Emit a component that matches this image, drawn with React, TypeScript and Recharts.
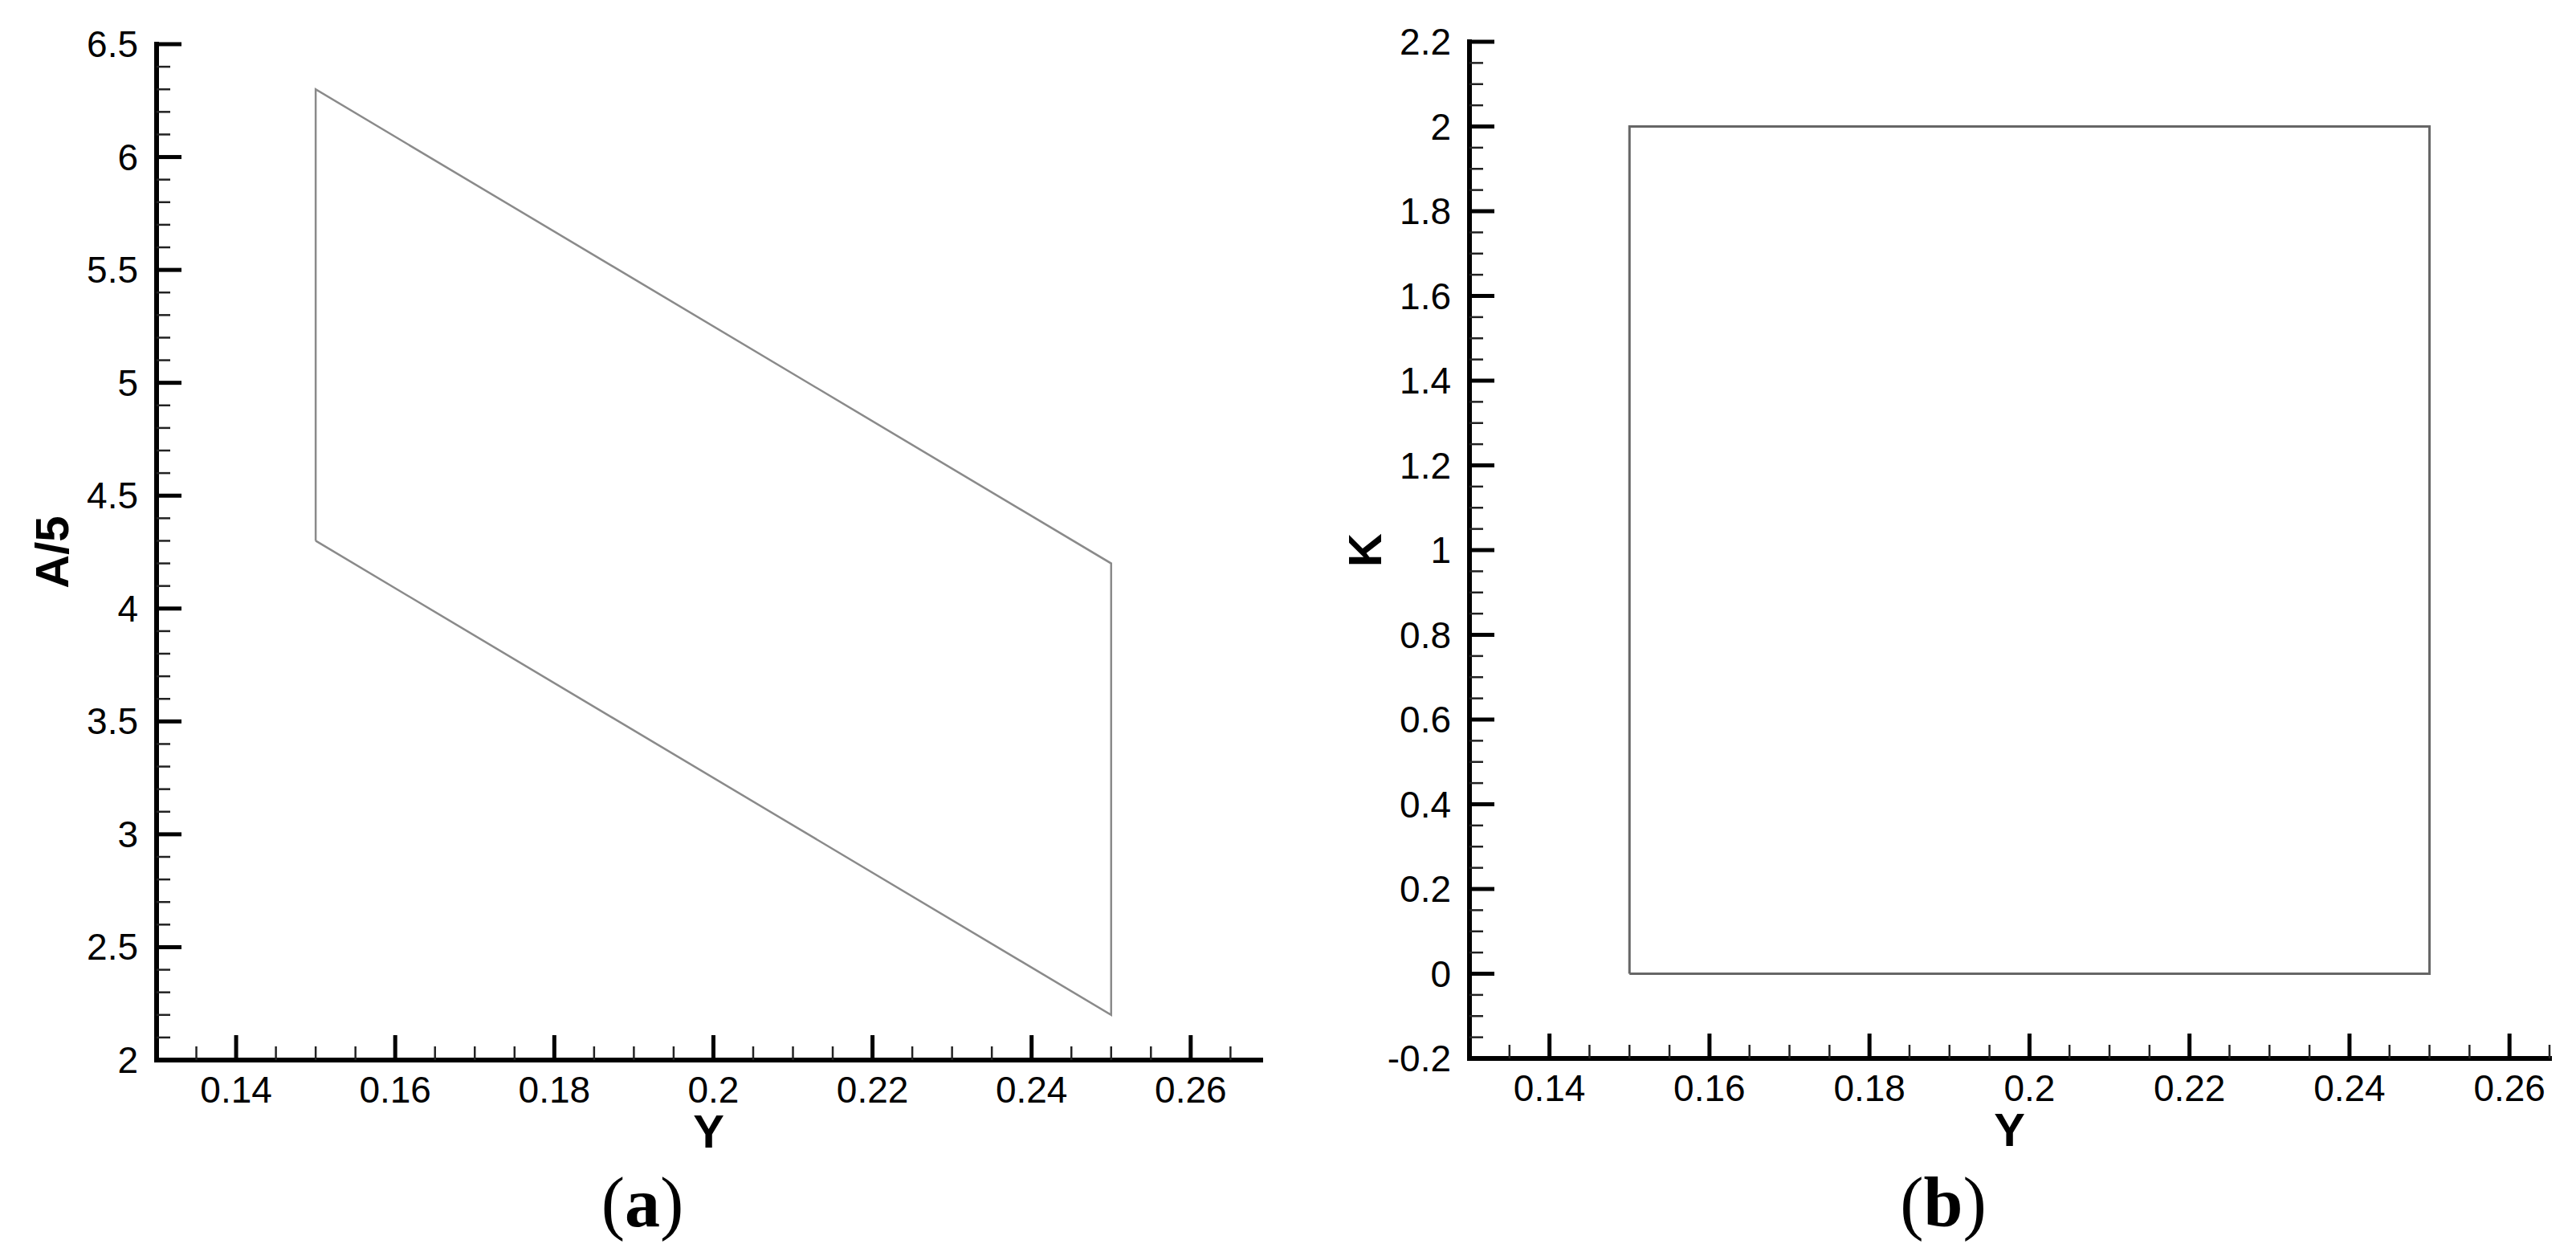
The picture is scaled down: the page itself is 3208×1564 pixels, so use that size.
import { Label, Scatter, ScatterChart, XAxis, YAxis } from "recharts";

// panel (a): A/5 against Y
const aYValues = [0.15, 0.15, 0.25, 0.25, 0.15];
const aA5Values = [4.3, 6.3, 4.2, 2.2, 4.3];

// panel (b): K against Y
const bYValues = [0.15, 0.15, 0.25, 0.25, 0.15];
const bKValues = [0, 2, 2, 0, 0];

const xMajorTicks = [0.14, 0.16, 0.18, 0.2, 0.22, 0.24, 0.26];
const xMinorTicks = [0.135, 0.145, 0.15, 0.155, 0.165, 0.17, 0.175, 0.185, 0.19, 0.195, 0.205, 0.21, 0.215, 0.225, 0.23, 0.235, 0.245, 0.25, 0.255, 0.265];

const aMajorTicks = [2, 2.5, 3, 3.5, 4, 4.5, 5, 5.5, 6, 6.5];
const aMinorTicks = [
  2.1, 2.2, 2.3, 2.4, 2.6, 2.7, 2.8, 2.9, 3.1, 3.2, 3.3, 3.4, 3.6, 3.7, 3.8, 3.9,
  4.1, 4.2, 4.3, 4.4, 4.6, 4.7, 4.8, 4.9, 5.1, 5.2, 5.3, 5.4, 5.6, 5.7, 5.8, 5.9,
  6.1, 6.2, 6.3, 6.4,
];

const bMajorTicks = [-0.2, 0, 0.2, 0.4, 0.6, 0.8, 1, 1.2, 1.4, 1.6, 1.8, 2, 2.2];
const bMinorTicks = [
  -0.15, -0.1, -0.05, 0.05, 0.1, 0.15, 0.25, 0.3, 0.35, 0.45, 0.5, 0.55, 0.65, 0.7, 0.75,
  0.85, 0.9, 0.95, 1.05, 1.1, 1.15, 1.25, 1.3, 1.35, 1.45, 1.5, 1.55, 1.65, 1.7, 1.75,
  1.85, 1.9, 1.95, 2.05, 2.1, 2.15,
];

const SANS = "'Liberation Sans', Arial, Helvetica, sans-serif";
const SERIF = "'Liberation Serif', 'Times New Roman', serif";

const sortNums = (a: number[], b: number[]) => [...a, ...b].sort((p, q) => p - q);

const makeXTick = (majors: number[]) => (props: any) => {
  const { x, y, payload } = props;
  const major = majors.includes(payload.value);
  return (
    <g>
      <line
        x1={x}
        y1={y}
        x2={x}
        y2={y - (major ? 31 : 17)}
        stroke={major ? "#000" : "#222"}
        strokeWidth={major ? 5 : 2.5}
      />
      {major && (
        <text x={x} y={y + 53} textAnchor="middle" fontSize={46} fontFamily={SANS} fill="#000">
          {String(payload.value)}
        </text>
      )}
    </g>
  );
};

const makeYTick = (majors: number[]) => (props: any) => {
  const { x, y, payload } = props;
  const major = majors.includes(payload.value);
  return (
    <g>
      <line
        x1={x}
        y1={y}
        x2={x + (major ? 31 : 17)}
        y2={y}
        stroke={major ? "#000" : "#222"}
        strokeWidth={major ? 5 : 2.5}
      />
      {major && (
        <text x={x - 23} y={y + 16} textAnchor="end" fontSize={46} fontFamily={SANS} fill="#000">
          {String(payload.value)}
        </text>
      )}
    </g>
  );
};

const xTitle = (text: string) => (props: any) => {
  const vb = props.viewBox || { x: 0, y: 0, width: 0, height: 0 };
  return (
    <text x={vb.x + vb.width / 2} y={vb.y + 109} textAnchor="middle" fontSize={58} fontWeight="bold" fontFamily={SANS} fill="#000">
      {text}
    </text>
  );
};

const yTitle = (text: string) => (props: any) => {
  const vb = props.viewBox || { x: 0, y: 0, width: 0, height: 0 };
  const tx = vb.x + vb.width - 110;
  const ty = vb.y + vb.height / 2;
  return (
    <text x={tx} y={ty} transform={`rotate(-90, ${tx}, ${ty})`} textAnchor="middle" fontSize={58} fontWeight="bold" fontFamily={SANS} fill="#000">
      {text}
    </text>
  );
};

const axisLineStyle = { stroke: "#000", strokeWidth: 6, strokeLinecap: "square" as const };

interface PanelProps {
  left: number;
  width: number;
  height: number;
  top: number;
  right: number;
  xs: number[];
  ys: number[];
  xDomain: [number, number];
  yDomain: [number, number];
  yMajors: number[];
  yMinors: number[];
  yLabel: string;
  lineColor: string;
  lineWidth: number;
}

function Panel(p: PanelProps) {
  const points = p.xs.map((x, i) => ({ x, y: p.ys[i] }));
  return (
    <div style={{ position: "absolute", left: p.left, top: 0 }}>
      <ScatterChart width={p.width} height={p.height} margin={{ top: p.top, right: p.right, bottom: 0, left: 0 }}>
        <XAxis
          type="number"
          dataKey="x"
          domain={p.xDomain}
          allowDataOverflow
          ticks={sortNums(xMajorTicks, xMinorTicks)}
          interval={0}
          tickSize={0}
          tickMargin={0}
          tickLine={false}
          axisLine={axisLineStyle}
          tick={makeXTick(xMajorTicks)}
          height={130}
        >
          <Label content={xTitle("Y")} />
        </XAxis>
        <YAxis
          type="number"
          dataKey="y"
          domain={p.yDomain}
          allowDataOverflow
          ticks={sortNums(p.yMajors, p.yMinors)}
          interval={0}
          tickSize={0}
          tickMargin={0}
          tickLine={false}
          axisLine={axisLineStyle}
          tick={makeYTick(p.yMajors)}
          width={195}
        >
          <Label content={yTitle(p.yLabel)} />
        </YAxis>
        <Scatter
          data={points}
          line={{ stroke: p.lineColor, strokeWidth: p.lineWidth }}
          shape={() => <g />}
          isAnimationActive={false}
        />
      </ScatterChart>
    </div>
  );
}

export default function App() {
  return (
    <div style={{ position: "absolute", left: 0, top: 0, width: 3208, height: 1564, background: "#fff" }}>
      <Panel
        left={0}
        width={1640}
        height={1450}
        top={55}
        right={70}
        xs={aYValues}
        ys={aA5Values}
        xDomain={[0.13, 0.2688]}
        yDomain={[2, 6.5]}
        yMajors={aMajorTicks}
        yMinors={aMinorTicks}
        yLabel="A/5"
        lineColor="#8a8a8a"
        lineWidth={2.5}
      />
      <Panel
        left={1635}
        width={1570}
        height={1448}
        top={52}
        right={30}
        xs={bYValues}
        ys={bKValues}
        xDomain={[0.13, 0.265]}
        yDomain={[-0.2, 2.2]}
        yMajors={bMajorTicks}
        yMinors={bMinorTicks}
        yLabel="K"
        lineColor="#666"
        lineWidth={3}
      />
      <svg width={3208} height={1564} style={{ position: "absolute", left: 0, top: 0, pointerEvents: "none" }}>
        <text x={800} y={1527} textAnchor="middle" fontSize={88} fontFamily={SERIF} fill="#000">
          (<tspan fontWeight="bold">a</tspan>)
        </text>
        <text x={2420} y={1527} textAnchor="middle" fontSize={88} fontFamily={SERIF} fill="#000">
          (<tspan fontWeight="bold">b</tspan>)
        </text>
      </svg>
    </div>
  );
}
